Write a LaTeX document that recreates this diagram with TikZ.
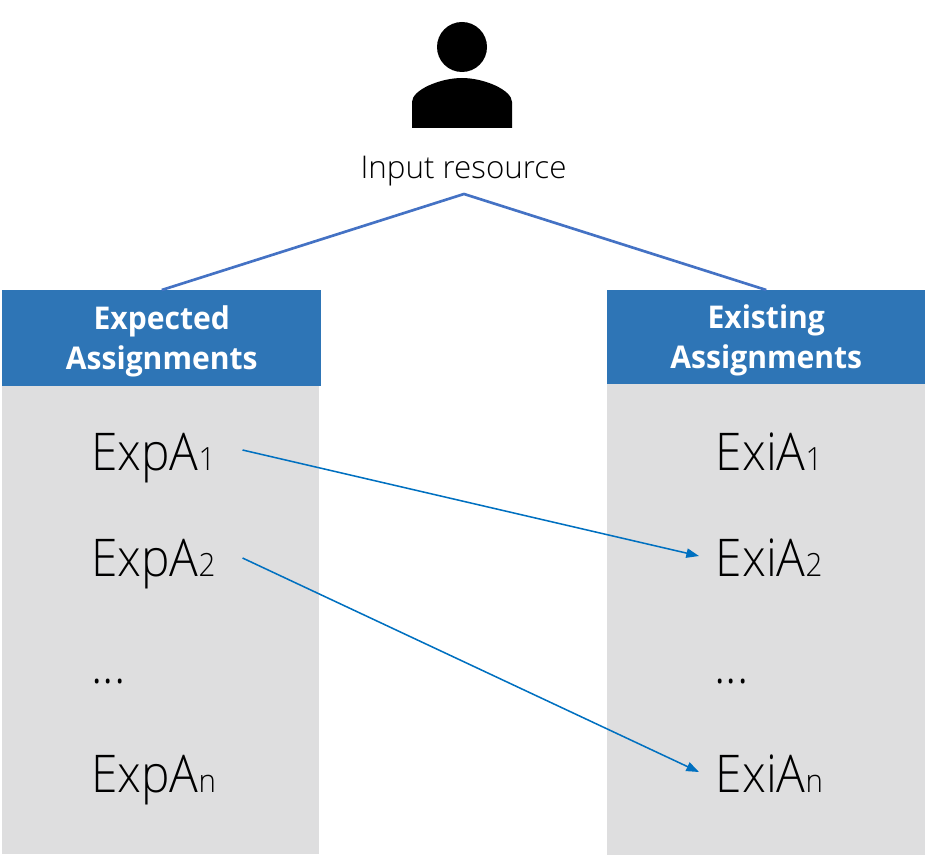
\documentclass[tikz,border=0pt]{standalone}
\usepackage{fontspec}
\setmainfont{Open Sans Light}
\newfontfamily\itemfont{Open Sans Light}[FakeStretch=0.92]
\newfontfamily\hdrfont{Open Sans}[FakeStretch=0.96]
\usetikzlibrary{arrows.meta}
\definecolor{hdr}{HTML}{2E75B6}
\definecolor{panel}{HTML}{DEDEDF}
\definecolor{apexline}{HTML}{4472C4}
\definecolor{arrowline}{HTML}{0070C0}
\tikzset{
  x=0.75pt,y=-0.75pt,
  header/.style={fill=hdr,inner sep=0pt,anchor=north west},
  headertext/.style={text=white,font=\fontsize{23.5pt}{30pt}\selectfont\hdrfont\bfseries,align=center,inner sep=0pt,yshift=-2pt},
  panelbox/.style={fill=panel,inner sep=0pt,anchor=north west},
  item/.style={inner sep=0pt,anchor=base west,font=\fontsize{39pt}{39pt}\selectfont\itemfont,text height=30pt,text depth=0pt,align=left},
  expitem/.style={item,text width=111.75pt},
  exiitem/.style={item,text width=120pt},
  apexedge/.style={apexline,line width=2pt},
  linkedge/.style={arrowline,line width=1.15pt,-{Triangle[length=9.5pt,width=7pt]}},
}
\newcommand{\subs}[1]{{\fontsize{24pt}{24pt}\selectfont #1}}
\begin{document}
\begin{tikzpicture}
\useasboundingbox (0,0) rectangle (934,855);
% panels
\node[panelbox,minimum width=237.75pt,minimum height=351pt] (lp) at (2,386) {};
\node[panelbox,minimum width=238.5pt,minimum height=353.25pt] (rp) at (607,384) {};
\node[header,minimum width=239.25pt,minimum height=72pt] (lh) at (2,290) {};
\node[header,minimum width=238.5pt,minimum height=70.5pt] (rh) at (607,290) {};
\node[headertext] (lt) at (lh.center) {Expected\\Assignments};
\node[headertext] (rt) at (rh.center) {Existing\\Assignments};
% person
\fill (462,47) circle[radius=18.75pt];
\fill (412,128) -- (412,102) .. controls (412,90) and (440,78) .. (462,78) .. controls (484,78) and (512,90) .. (512,102) -- (512,128) -- cycle;
\node[inner sep=0pt,anchor=base,font=\fontsize{23.5pt}{24pt}\selectfont] (res) at (463.5,178.5) {Input resource};
\coordinate (apex) at (464,194);
\draw[apexedge] (lh.north) -- (apex) -- (rh.north);
% items
\node[expitem] (e1) at (93,470) {\hspace{-1.5pt}ExpA\subs{1}};
\node[expitem] (e2) at (93,576) {\hspace{-1.5pt}ExpA\subs{2}};
\node[expitem] (e3) at (93,683) {\hspace{-1.5pt}...};
\node[expitem] (e4) at (93,792) {\hspace{-1.5pt}ExpA\subs{n}};
\node[exiitem] (x1) at (699,470) {\hspace{12.5pt}ExiA\subs{1}};
\node[exiitem] (x2) at (699,576) {\hspace{12.5pt}ExiA\subs{2}};
\node[exiitem] (x3) at (699,683) {\hspace{11.5pt}...};
\node[exiitem] (x4) at (699,792) {\hspace{12.5pt}ExiA\subs{n}};
\draw[linkedge] (e1.east) -- (x2.west);
\draw[linkedge] ([yshift=-1.5pt]e2.east) -- (x4.west);
\end{tikzpicture}
\end{document}
